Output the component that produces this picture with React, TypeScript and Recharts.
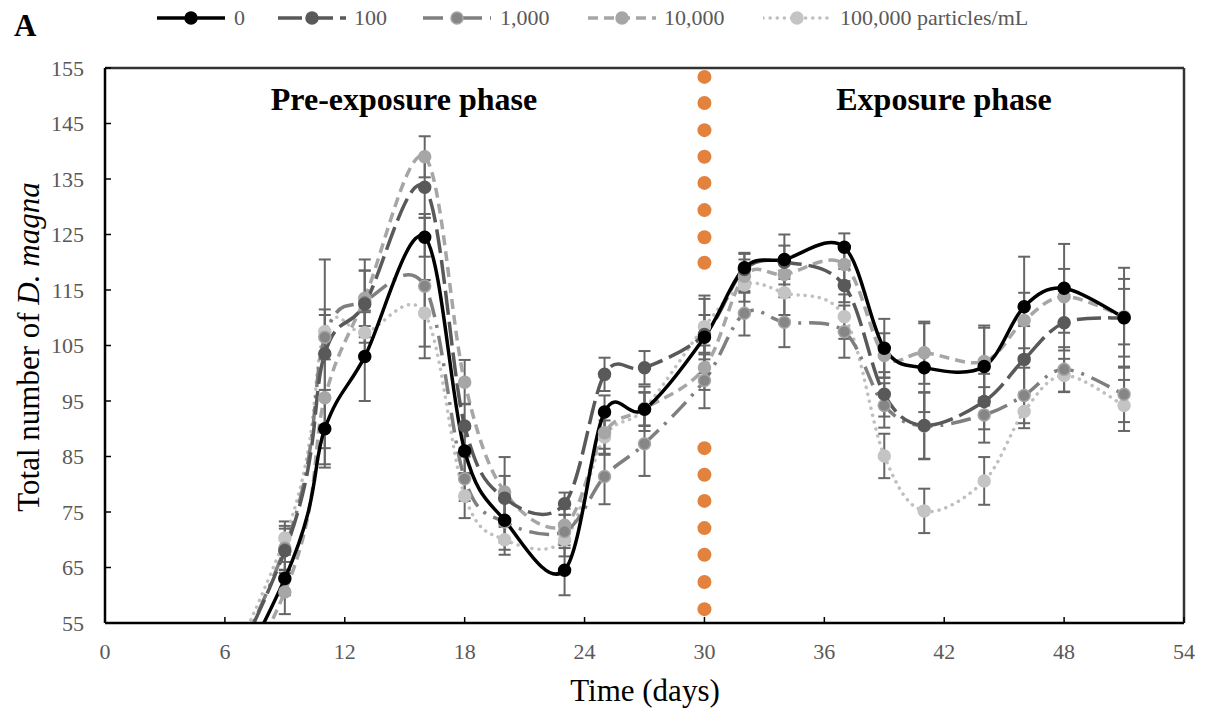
import React from 'react';
import {
  ComposedChart, Line, Scatter, XAxis, YAxis, ErrorBar, ReferenceLine,
} from 'recharts';

// days of counting
const days = [0, 9, 11, 13, 16, 18, 20, 23, 25, 27, 30, 32, 34, 37, 39, 41, 44, 46, 48, 51];

// mean totals per concentration (particles/mL)
const c0 = [0, 63, 90, 103, 124.5, 86, 73.5, 64.5, 93, 93.5, 106.5, 119, 120.5, 122.7, 104.5, 101, 101.2, 112, 115.3, 110];
const c100 = [0, 68, 103.5, 112.5, 133.5, 90.5, 77.5, 76.5, 99.8, 101, 107, 118.7, 120, 115.8, 96.2, 90.6, 94.9, 102.5, 109.1, 110];
const c1000 = [0, 68.5, 106.5, 113, 115.7, 81, 73.2, 71.5, 81.4, 87.3, 98.7, 110.8, 109.2, 107.5, 94.2, 90.5, 92.5, 96, 100.7, 96.2];
const c10000 = [0, 60.6, 95.6, 113.5, 139, 98.4, 78.6, 72.6, 89.3, 93.6, 101, 117.5, 117.8, 119.6, 103.2, 103.7, 102.1, 109.5, 113.8, 110.2];
const c100000 = [0, 70.3, 107.5, 107.3, 110.8, 77.9, 70, 70, 88.5, 93.6, 108.4, 115.9, 114.5, 110.2, 85.1, 75.2, 80.6, 93.1, 99.6, 94.2];

// standard errors
const e0 = [null, 3, 7, 8, 3.5, 4, 4, 4.5, 3, 3, 4, 2.5, 4.5, 2.5, 5.3, 8, 7, 9, 8, 9];
const e100 = [null, 4, 17, 6, 5.5, 4, 4, 2, 3, 3, 7, 3, 3, 3, 4, 6, 5, 6, 5, 7];
const e1000 = [null, 4, 4, 7.5, 13, 4, 5, 3, 5, 5.8, 5, 4, 4.5, 4.7, 4, 6, 5, 5, 4, 5];
const e10000 = [null, 4, 12, 5, 3.7, 4, 6.3, 3, 4, 4, 4, 3, 3, 3, 4, 5.6, 6.5, 5, 5, 5];
const e100000 = [null, 3, 4, 4, 6, 4, 2.7, 3, 3, 3, 5, 3, 4, 4, 4, 4, 4.3, 3, 3, 4.6];

// orange marker line at start of exposure
const exposureDay = 30;
const exposureMarks = [153.4, 148.7, 143.8, 139, 134.3, 129.4, 124.5, 119.9, 86.5, 81.7, 77, 72.1, 67.3, 62.4, 57.5];

const xTicks = [0, 6, 12, 18, 24, 30, 36, 42, 48, 54];
const yTicks = [55, 65, 75, 85, 95, 105, 115, 125, 135, 145, 155];

const data = days.map((d, i) => ({
  day: d,
  c0: c0[i], c100: c100[i], c1000: c1000[i], c10000: c10000[i], c100000: c100000[i],
  e0: e0[i], e100: e100[i], e1000: e1000[i], e10000: e10000[i], e100000: e100000[i],
}));
const markData = exposureMarks.map((v) => ({ day: exposureDay, v }));

const FONT = '"Liberation Serif", "Times New Roman", serif';

// excel-like smoothing (catmull-rom)
const smooth: any = (ctx: any) => {
  let pts: number[][] = [];
  return {
    areaStart() {},
    areaEnd() {},
    lineStart() { pts = []; },
    point(x: number, y: number) { pts.push([+x, +y]); },
    lineEnd() {
      if (!pts.length) return;
      ctx.moveTo(pts[0][0], pts[0][1]);
      for (let i = 0; i < pts.length - 1; i++) {
        const p0 = pts[i - 1] || pts[i];
        const p1 = pts[i];
        const p2 = pts[i + 1];
        const p3 = pts[i + 2] || p2;
        ctx.bezierCurveTo(
          p1[0] + (p2[0] - p0[0]) / 6, p1[1] + (p2[1] - p0[1]) / 6,
          p2[0] - (p3[0] - p1[0]) / 6, p2[1] - (p3[1] - p1[1]) / 6,
          p2[0], p2[1],
        );
      }
    },
  };
};

const series = [
  { key: 'c100000', err: 'e100000', name: '100,000 particles/mL', stroke: '#bfbfbf', dash: '0.1 7', cap: 'round', fill: '#c4c4c4', ring: '#c4c4c4' },
  { key: 'c10000', err: 'e10000', name: '10,000', stroke: '#a6a6a6', dash: '10 6', cap: 'butt', fill: '#a6a6a6', ring: '#a6a6a6' },
  { key: 'c1000', err: 'e1000', name: '1,000', stroke: '#7f7f7f', dash: '20 8 3 8', cap: 'butt', fill: '#868686', ring: '#a6a6a6' },
  { key: 'c100', err: 'e100', name: '100', stroke: '#595959', dash: '24 7', cap: 'butt', fill: '#595959', ring: '#595959' },
  { key: 'c0', err: 'e0', name: '0', stroke: '#000000', dash: undefined, cap: 'butt', fill: '#000000', ring: '#000000' },
];

const legendPos: Record<string, { line: number; text: number }> = {
  c0: { line: 157, text: 234 },
  c100: { line: 278, text: 354 },
  c1000: { line: 423, text: 500 },
  c10000: { line: 588, text: 664 },
  c100000: { line: 763, text: 840 },
};

const LegendItem = ({ s }: { s: typeof series[number] }) => {
  const p = legendPos[s.key];
  const w = 68;
  return (
    <>
      <svg style={{ position: 'absolute', left: p.line, top: 8 }} width={w} height={20}>
        <line x1={0} y1={10} x2={w} y2={10} stroke={s.stroke} strokeWidth={3.5}
          strokeDasharray={s.dash} strokeLinecap={s.cap as any} />
        <circle cx={w / 2} cy={10} r={6} fill={s.fill} stroke={s.ring} strokeWidth={1.5} />
      </svg>
      <div style={{ position: 'absolute', left: p.text, top: 4, fontSize: 22, color: '#595959', lineHeight: '28px', whiteSpace: 'nowrap' }}>
        {s.name}
      </div>
    </>
  );
};

export default function App() {
  return (
    <div style={{ position: 'absolute', left: 0, top: 0, width: 1208, height: 711, background: '#fff', fontFamily: FONT }}>
      <ComposedChart width={1208} height={711} data={data}
        margin={{ top: 68, right: 24, left: 0, bottom: 58 }}>
        <XAxis dataKey="day" type="number" domain={[0, 54]} ticks={xTicks} allowDataOverflow
          height={30} tickSize={-6} tickMargin={26}
          axisLine={{ stroke: '#000', strokeWidth: 2.5 }} tickLine={{ stroke: '#000', strokeWidth: 1.5 }}
          tick={{ fill: '#595959', fontSize: 22, fontFamily: FONT }} />
        <YAxis type="number" domain={[55, 155]} ticks={yTicks} allowDataOverflow
          width={105} tickSize={-6} tickMargin={27}
          axisLine={{ stroke: '#000', strokeWidth: 2.5 }} tickLine={{ stroke: '#000', strokeWidth: 1.5 }}
          tick={{ fill: '#595959', fontSize: 22, fontFamily: FONT }} />
        <ReferenceLine y={155} stroke="#333" strokeWidth={2.5} />
        <ReferenceLine x={54} stroke="#333" strokeWidth={2.5} />
        <Scatter data={markData} dataKey="v" isAnimationActive={false}
          shape={(p: any) => <circle cx={p.cx} cy={p.cy} r={7} fill="#e2823d" />} />
        {series.map((s) => (
          <Line key={s.key} dataKey={s.key} type={smooth} stroke={s.stroke} strokeWidth={3.5}
            strokeDasharray={s.dash} strokeLinecap={s.cap as any}
            dot={{ r: 6, fill: s.fill, stroke: s.ring, strokeWidth: 1.5, strokeDasharray: '' }}
            activeDot={false} isAnimationActive={false}>
            <ErrorBar dataKey={s.err} direction="y" width={6} stroke="#666" strokeWidth={2} isAnimationActive={false} />
          </Line>
        ))}
      </ComposedChart>

      {series.slice().reverse().map((s) => <LegendItem key={s.key} s={s} />)}

      <div style={{ position: 'absolute', left: 14, top: 8, fontSize: 31, fontWeight: 'bold' }}>A</div>

      <div style={{ position: 'absolute', left: 404, top: 99, transform: 'translate(-50%, -50%)', fontSize: 32, fontWeight: 'bold', whiteSpace: 'nowrap' }}>
        Pre-exposure phase
      </div>
      <div style={{ position: 'absolute', left: 944, top: 99, transform: 'translate(-50%, -50%)', fontSize: 32, fontWeight: 'bold', whiteSpace: 'nowrap' }}>
        Exposure phase
      </div>

      <div style={{ position: 'absolute', left: 29, top: 347, transform: 'translate(-50%, -50%) rotate(-90deg)', fontSize: 31, whiteSpace: 'nowrap' }}>
        Total number of <i>D. magna</i>
      </div>
      <div style={{ position: 'absolute', left: 645, top: 691, transform: 'translate(-50%, -50%)', fontSize: 31, whiteSpace: 'nowrap' }}>
        Time (days)
      </div>
    </div>
  );
}
